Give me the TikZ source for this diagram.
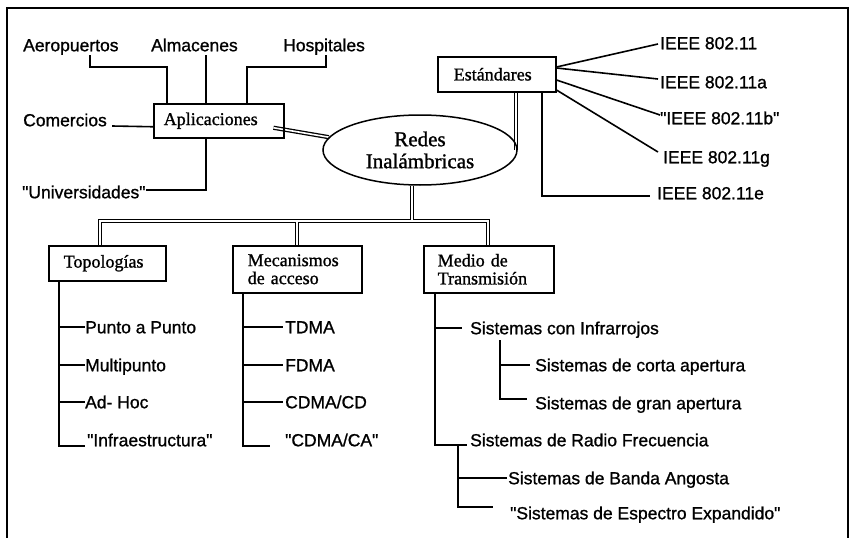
\documentclass[tikz,border=0pt]{standalone}
\usepackage{fontspec}
\setmainfont{Liberation Serif}[FakeBold=1.2]
\newfontfamily\sansf{Liberation Sans}[FakeBold=1.0]
\usetikzlibrary{calc,shapes.geometric,backgrounds}
\tikzset{
  lbl/.style={anchor=west,inner sep=0pt,font=\sansf\fontsize{17.5}{20}\selectfont,text height=12.5pt,text depth=0pt},
  boxn/.style={draw,line width=1.5pt,anchor=north west,align=left,inner ysep=0pt,font=\fontsize{18}{18}\selectfont},
  conn/.style={line width=1.6pt},
  dblout/.style={line width=4.2pt,line join=miter},
  dblin/.style={white,line width=1.6pt,line join=miter},
  frame/.style={line width=1.6pt}
}
\begin{document}
\begin{tikzpicture}[x=1pt,y=-1pt]
\useasboundingbox (0,0) rectangle (852,538);
% frame
\draw[frame] (7,538) -- (7,8) -- (848,8) -- (848,538);

% main boxes
\node[boxn,minimum height=34pt,text width=110pt,inner xsep=10pt] (apl) at (153,103) {Aplicaciones};
\node[boxn,minimum height=35pt,text width=86pt,inner xsep=16pt] (est) at (437,56) {Estándares};
\node[draw,ellipse,line width=1.5pt,minimum width=194pt,minimum height=70pt,inner sep=0pt,font=\fontsize{21}{22}\selectfont] (red) at (420,150) {\raisebox{-2pt}{\parbox{112pt}{\centering Redes\\Inalámbricas}}};
\node[boxn,minimum height=35pt,text width=87pt,inner xsep=15pt] (top) at (48,245) {Topologías};
\node[boxn,minimum height=47pt,text width=99pt,inner xsep=15pt] (mec) at (232,245) {Mecanismos\\de acceso};
\node[boxn,minimum height=47pt,text width=102pt,inner xsep=14pt] (med) at (423,245) {Medio de\\Transmisión};

% application labels
\node[lbl] (aer) at (23,45) {Aeropuertos};
\node[lbl] (alm) at (151,45) {Almacenes};
\node[lbl] (hos) at (283,45) {Hospitales};
\node[lbl] (com) at (23,120) {Comercios};
\node[lbl] (uni) at (22,192) {"Universidades"};

% standards labels
\node[lbl] (i1) at (660,43) {IEEE 802.11};
\node[lbl] (i2) at (660,82) {IEEE 802.11a};
\node[lbl] (i3) at (660,118) {"IEEE 802.11b"};
\node[lbl] (i4) at (663,157) {IEEE 802.11g};
\node[lbl] (i5) at (657,193) {IEEE 802.11e};

% topologies
\node[lbl] (pap) at (85,327) {Punto a Punto};
\node[lbl] (mul) at (85,365) {Multipunto};
\node[lbl] (adh) at (85,402) {Ad- Hoc};
\node[lbl] (inf) at (87,440) {"Infraestructura"};

% access mechanisms
\node[lbl] (tdm) at (285,327) {TDMA};
\node[lbl] (fdm) at (285,365) {FDMA};
\node[lbl] (ccd) at (285,402) {CDMA/CD};
\node[lbl] (cca) at (285,440) {"CDMA/CA"};

% transmission media
\node[lbl] (ir)  at (470,328) {Sistemas con Infrarrojos};
\node[lbl] (cor) at (535,365) {Sistemas de corta apertura};
\node[lbl] (gra) at (535,403) {Sistemas de gran apertura};
\node[lbl] (rad) at (470,440) {Sistemas de Radio Frecuencia};
\node[lbl] (ban) at (508,478) {Sistemas de Banda Angosta};
\node[lbl] (esp) at (510,513) {"Sistemas de Espectro Expandido"};

% coordinates for the double-line trunk
\coordinate (tr) at ($(red.south)+(-8,0)$);
\coordinate (hy) at ($(tr)+(0,35)$);
\coordinate (t1) at ($(top.north west)+(52,0)$);
\coordinate (m1) at ($(mec.north west)+(65,0)$);
\coordinate (d1) at ($(med.north west)+(65,0)$);
\coordinate (e1) at ($(est.south west)+(79,0)$);
\coordinate (a1) at ($(apl.east)+(-11,7)$);

\begin{scope}[on background layer]
\foreach \st in {dblout,dblin}{
  \draw[\st] (a1) -- (red.172);
  \draw[\st] (e1) -- (e1 |- red.east);
  \draw[\st] (t1) |- (hy) -| (d1);
  \draw[\st] (tr) -- (hy);
  \draw[\st] (m1) -- (m1 |- hy);
}
\end{scope}

% application connectors
\draw[conn] ($(aer.south west)+(67,4)$) |- ($(apl.north west)+(14,-36)$) -- ($(apl.north west)+(14,0)$);
\draw[conn] ($(apl.north west)+(53,0)$) coordinate (a2) -- ($(a2 |- alm.south)+(0,4)$);
\draw[conn] ($(hos.south west)+(43,4)$) |- ($(apl.north west)+(94,-36)$) -- ($(apl.north west)+(94,0)$);
\draw[conn] ($(com.east)+(5,6)$) -- ($(apl.west)+(0,6)$);
\draw[conn] ($(apl.south west)+(53,0)$) |- ($(uni.east)+(0,-2)$);

% standards connectors
\draw[conn] ($(est.north east)+(0,11)$) -- ($(i1.west)+(-2,1)$);
\draw[conn] ($(est.north east)+(0,12)$) -- ($(i2.west)+(-2,-3)$);
\draw[conn] ($(est.north east)+(0,24)$) -- ($(i3.west)+(0,-3)$);
\draw[conn] ($(est.north east)+(0,34)$) -- ($(i4.west)+(-5,-5)$);
\draw[conn] ($(est.south west)+(105,0)$) |- ($(i5.west)+(-7,3)$);

% topologies tree
\coordinate (tv) at ($(top.south west)+(11,0)$);
\draw[conn] (tv) |- ($(inf.west)+(-2,6)$);
\draw[conn] (tv |- pap.west) -- (pap.west);
\draw[conn] (tv |- mul.west) -- (mul.west);
\draw[conn] (tv |- adh.west) -- (adh.west);

% access mechanisms tree
\coordinate (mv) at ($(mec.south west)+(11,0)$);
\draw[conn] (mv) |- ($(cca.west)+(-15,6)$);
\draw[conn] (mv |- tdm.west) -- ($(tdm.west)+(-2,0)$);
\draw[conn] (mv |- fdm.west) -- ($(fdm.west)+(-2,0)$);
\draw[conn] (mv |- ccd.west) -- ($(ccd.west)+(-2,0)$);

% transmission media tree
\coordinate (dv) at ($(med.south west)+(12,0)$);
\draw[conn] (dv) |- ($(rad.west)+(-3,5)$);
\draw[conn] (dv |- ir.west) -- ($(ir.west)+(-8,0)$);
\coordinate (iv) at ($(ir.south west)+(30,6)$);
\draw[conn] (iv) |- ($(gra.west)+(-8,-4)$);
\draw[conn] (iv |- cor.west) -- ($(cor.west)+(-5,0)$);
\coordinate (rv) at ($(rad.west)+(-12,5)$);
\draw[conn] (rv) |- ($(esp.west)+(-17,-6)$);
\draw[conn] (rv |- ban.west) -- ($(ban.west)+(-1,0)$);
\end{tikzpicture}
\end{document}
